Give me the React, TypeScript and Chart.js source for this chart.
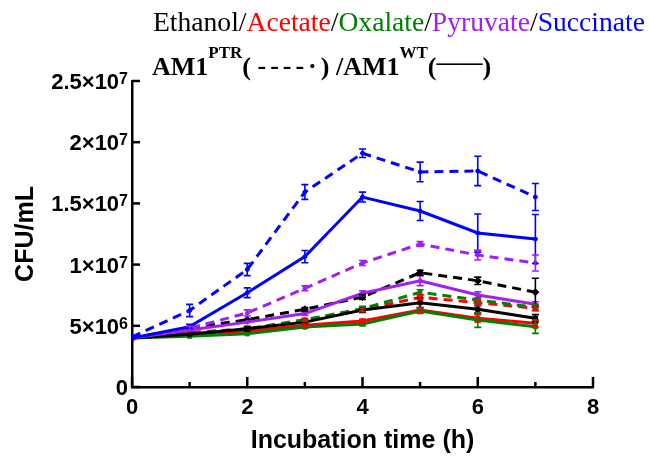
import React, { useEffect, useRef } from 'react';
import { Chart, registerables } from 'chart.js';

Chart.register(...registerables);

// ---------- data ----------
const times = [0, 1, 2, 3, 4, 5, 6, 7];

const ethanolPTR = [4.0e6, 4.8e6, 5.5e6, 6.35e6, 7.35e6, 9.34e6, 8.68e6, 7.74e6];
const ethanolWT = [4.0e6, 4.3e6, 4.75e6, 5.3e6, 6.29e6, 6.89e6, 6.35e6, 5.61e6];
const acetatePTR = [4.0e6, 4.45e6, 4.75e6, 5.45e6, 6.3e6, 7.33e6, 6.89e6, 6.43e6];
const acetateWT = [4.0e6, 4.35e6, 4.55e6, 5.05e6, 5.39e6, 6.29e6, 5.61e6, 5.2e6];
const oxalatePTR = [4.0e6, 4.4e6, 4.75e6, 5.5e6, 6.4e6, 7.74e6, 7.11e6, 6.51e6];
const oxalateWT = [4.0e6, 4.15e6, 4.35e6, 4.9e6, 5.15e6, 6.21e6, 5.47e6, 4.93e6];
const pyruvatePTR = [4.0e6, 4.8e6, 6.05e6, 8.06e6, 1.013e7, 1.168e7, 1.078e7, 1.013e7];
const pyruvateWT = [4.0e6, 4.65e6, 5.3e6, 6.0e6, 7.66e6, 8.68e6, 7.52e6, 6.76e6];
const succinatePTR = [4.1e6, 6.25e6, 9.6e6, 1.593e7, 1.91e7, 1.757e7, 1.765e7, 1.552e7];
const succinateWT = [4.0e6, 4.93e6, 7.7e6, 1.065e7, 1.552e7, 1.438e7, 1.258e7, 1.209e7];

const ethanolPTRErr = [0, 0, 0, 0.15e6, 0.2e6, 0.2e6, 0.3e6, 1.15e6];
const ethanolWTErr = [0, 0, 0.2e6, 0.15e6, 0.2e6, 0.4e6, 0.3e6, 0.3e6];
const acetatePTRErr = [0, 0, 0, 0.1e6, 0.15e6, 0.2e6, 0.2e6, 0.2e6];
const acetateWTErr = [0, 0, 0, 0.1e6, 0.15e6, 0.2e6, 0.3e6, 0.3e6];
const oxalatePTRErr = [0, 0, 0, 0.1e6, 0.2e6, 0.2e6, 0.2e6, 0.25e6];
const oxalateWTErr = [0, 0, 0, 0.1e6, 0.15e6, 0.2e6, 0.6e6, 0.55e6];
const pyruvatePTRErr = [0, 0.15e6, 0.25e6, 0.2e6, 0.2e6, 0.2e6, 0.4e6, 0.65e6];
const pyruvateWTErr = [0, 0, 0, 0.15e6, 0.2e6, 0.4e6, 0.25e6, 0.2e6];
const succinatePTRErr = [0, 0.5e6, 0.5e6, 0.6e6, 0.35e6, 0.8e6, 1.2e6, 1.1e6];
const succinateWTErr = [0, 0.2e6, 0.4e6, 0.5e6, 0.4e6, 0.78e6, 1.56e6, 2.0e6];

const xTickValues = [0, 1, 2, 3, 4, 5, 6, 7, 8];
const xTickLabels = ['0', '', '2', '', '4', '', '6', '', '8'];
const yTickValues = [0, 5e6, 1e7, 1.5e7, 2e7, 2.5e7];
const yTickBase = ['0', '5×10', '1×10', '1.5×10', '2×10', '2.5×10'];
const yTickExp = ['', '6', '7', '7', '7', '7'];

const titleWords = ['Ethanol', 'Acetate', 'Oxalate', 'Pyruvate', 'Succinate'];
const titleColors = ['#000000', '#ff0000', '#008000', '#a020f0', '#0000ff'];

const BLACK = '#000000';
const RED = '#ff0000';
const GREEN = '#008000';
const PURPLE = '#a020f0';
const BLUE = '#0000ff';

const SANS = '"Liberation Sans", Arial, sans-serif';
const SERIF = '"Liberation Serif", "Times New Roman", serif';

type Series = { values: number[]; errs: number[]; color: string; dashed: boolean; style: string; r: number };

const seriesList: Series[] = [
  { values: succinatePTR, errs: succinatePTRErr, color: BLUE, dashed: true, style: 'circle', r: 2 },
  { values: succinateWT, errs: succinateWTErr, color: BLUE, dashed: false, style: 'circle', r: 2 },
  { values: pyruvatePTR, errs: pyruvatePTRErr, color: PURPLE, dashed: true, style: 'circle', r: 2 },
  { values: pyruvateWT, errs: pyruvateWTErr, color: PURPLE, dashed: false, style: 'circle', r: 2 },
  { values: ethanolPTR, errs: ethanolPTRErr, color: BLACK, dashed: true, style: 'rectRot', r: 3.5 },
  { values: ethanolWT, errs: ethanolWTErr, color: BLACK, dashed: false, style: 'rect', r: 3 },
  { values: oxalatePTR, errs: oxalatePTRErr, color: GREEN, dashed: true, style: 'rect', r: 2.5 },
  { values: acetatePTR, errs: acetatePTRErr, color: RED, dashed: true, style: 'circle', r: 2.5 },
  { values: oxalateWT, errs: oxalateWTErr, color: GREEN, dashed: false, style: 'rect', r: 3 },
  { values: acetateWT, errs: acetateWTErr, color: RED, dashed: false, style: 'circle', r: 2.5 },
];

const decorPlugin = {
  id: 'decor',
  afterDatasetsDraw(chart: any) {
    const ctx = chart.ctx;
    const xs = chart.scales.x;
    const ys = chart.scales.y;
    ctx.save();
    seriesList.forEach((s) => {
      ctx.strokeStyle = s.color;
      ctx.lineWidth = 1.6;
      s.values.forEach((v, j) => {
        const e = s.errs[j];
        if (!e) return;
        const px = xs.getPixelForValue(times[j]);
        const top = ys.getPixelForValue(v + e);
        const bot = ys.getPixelForValue(v - e);
        ctx.beginPath();
        ctx.moveTo(px, top);
        ctx.lineTo(px, bot);
        ctx.moveTo(px - 3.5, top);
        ctx.lineTo(px + 3.5, top);
        ctx.moveTo(px - 3.5, bot);
        ctx.lineTo(px + 3.5, bot);
        ctx.stroke();
      });
    });
    ctx.restore();
  },
  afterDraw(chart: any) {
    const ctx = chart.ctx;
    const xs = chart.scales.x;
    const ys = chart.scales.y;
    const area = chart.chartArea;
    ctx.save();
    // inward tick marks
    ctx.strokeStyle = '#000';
    ctx.lineWidth = 2.5;
    ctx.lineCap = 'butt';
    xTickValues.forEach((v, i) => {
      const px = xs.getPixelForValue(v);
      const len = xTickLabels[i] ? 10 : 5;
      ctx.beginPath();
      ctx.moveTo(px, area.bottom);
      ctx.lineTo(px, area.bottom - len);
      ctx.stroke();
    });
    yTickValues.forEach((v) => {
      const py = ys.getPixelForValue(v);
      ctx.beginPath();
      ctx.moveTo(area.left, py);
      ctx.lineTo(area.left + 8, py);
      ctx.stroke();
    });
    // y tick labels with superscripts
    ctx.fillStyle = '#000';
    ctx.textBaseline = 'alphabetic';
    ctx.textAlign = 'left';
    const rightEdge = area.left - 4;
    yTickValues.forEach((v, i) => {
      const py = ys.getPixelForValue(v);
      ctx.font = `bold 16px ${SANS}`;
      const ew = yTickExp[i] ? ctx.measureText(yTickExp[i]).width : 0;
      ctx.font = `bold 22px ${SANS}`;
      const bw = ctx.measureText(yTickBase[i]).width;
      const bx = rightEdge - ew - bw;
      ctx.fillText(yTickBase[i], bx, py + 8);
      if (yTickExp[i]) {
        ctx.font = `bold 16px ${SANS}`;
        ctx.fillText(yTickExp[i], rightEdge - ew, py + 3);
      }
    });
    // title line 1
    let x = 153;
    ctx.font = `27.6px ${SERIF}`;
    titleWords.forEach((w, k) => {
      ctx.fillStyle = titleColors[k];
      ctx.fillText(w, x, 31);
      x += ctx.measureText(w).width;
      if (k < titleWords.length - 1) {
        ctx.fillStyle = '#000';
        ctx.fillText('/', x, 31);
        x += ctx.measureText('/').width;
      }
    });
    // title line 2
    const segs: { t: string; f: string; dy: number; ls?: number }[] = [
      { t: 'AM1', f: `bold 26px ${SERIF}`, dy: 0 },
      { t: 'PTR', f: `bold 17px ${SERIF}`, dy: -17 },
      { t: '( ', f: `bold 26px ${SERIF}`, dy: 0 },
      { t: '----·', f: `bold 26px ${SERIF}`, dy: -1, ls: 4 },
      { t: ')', f: `bold 26px ${SERIF}`, dy: 0 },
      { t: ' /AM1', f: `bold 26px ${SERIF}`, dy: 0 },
      { t: 'WT', f: `bold 17px ${SERIF}`, dy: -17 },
      { t: '(', f: `bold 26px ${SERIF}`, dy: 0 },
      { t: '——', f: `bold 23px ${SERIF}`, dy: -5 },
      { t: ')', f: `bold 26px ${SERIF}`, dy: 0 },
    ];
    x = 152;
    ctx.fillStyle = '#000';
    segs.forEach((s) => {
      ctx.font = s.f;
      (ctx as any).letterSpacing = s.ls ? `${s.ls}px` : '0px';
      ctx.fillText(s.t, x, 75 + s.dy);
      x += ctx.measureText(s.t).width;
    });
    (ctx as any).letterSpacing = '0px';
    ctx.restore();
  },
};

export default function App() {
  const ref = useRef<HTMLCanvasElement>(null);
  useEffect(() => {
    const datasets = seriesList.map((s) => ({
      data: s.values.map((v, i) => ({ x: times[i], y: v })),
      borderColor: s.color,
      backgroundColor: s.color,
      borderWidth: 3,
      borderDash: s.dashed ? [9, 6] : [],
      pointStyle: s.style as any,
      pointRadius: s.r,
      pointBorderWidth: 1,
      tension: 0,
      fill: false,
    }));
    const chart = new Chart(ref.current as HTMLCanvasElement, {
      type: 'line',
      data: { datasets },
      options: {
        animation: false,
        responsive: false,
        layout: { padding: { top: 81, right: 56, bottom: 0, left: 0 } },
        plugins: { legend: { display: false }, tooltip: { enabled: false } },
        scales: {
          x: {
            type: 'linear',
            min: 0,
            max: 8,
            afterBuildTicks: (scale: any) => {
              scale.ticks = xTickValues.map((v) => ({ value: v }));
            },
            ticks: {
              autoSkip: false,
              callback: (v: any) => {
                const i = xTickValues.indexOf(Number(v));
                return i >= 0 ? xTickLabels[i] : '';
              },
              color: '#000',
              font: { family: SANS, size: 22, weight: 'bold' },
              padding: 8,
              maxRotation: 0,
            },
            grid: { display: false, drawTicks: false },
            border: { display: true, color: '#000', width: 2.5 },
            title: {
              display: true,
              text: 'Incubation time (h)',
              color: '#000',
              font: { family: SANS, size: 25, weight: 'bold' },
              padding: { top: 0, bottom: 4.5 },
            },
            afterFit: (scale: any) => {
              scale.height = 74;
            },
          },
          y: {
            type: 'linear',
            min: 0,
            max: 2.5e7,
            afterBuildTicks: (scale: any) => {
              scale.ticks = yTickValues.map((v) => ({ value: v }));
            },
            ticks: { display: false },
            grid: { display: false, drawTicks: false },
            border: { display: true, color: '#000', width: 2.5 },
            title: {
              display: true,
              text: 'CFU/mL',
              color: '#000',
              font: { family: SANS, size: 25, weight: 'bold' },
              padding: { top: 11, bottom: 0 },
            },
            afterFit: (scale: any) => {
              scale.width = 132;
            },
          },
        },
      },
      plugins: [decorPlugin],
    } as any);
    return () => chart.destroy();
  }, []);
  return (
    <div style={{ position: 'fixed', left: 0, top: 0, width: 649, height: 461, background: '#fff' }}>
      <canvas ref={ref} width={649} height={461} style={{ display: 'block', width: 649, height: 461 }} />
    </div>
  );
}
